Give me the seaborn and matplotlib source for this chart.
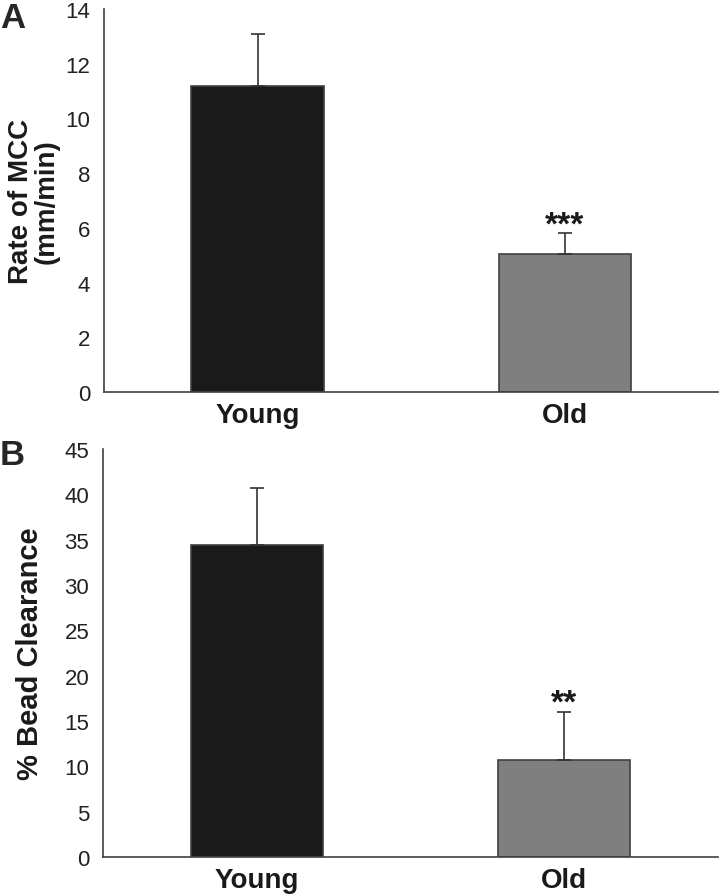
import matplotlib
matplotlib.use("Agg")
import matplotlib.pyplot as plt
import seaborn as sns

groups = ["Young", "Old"]
mcc_rate = [11.2, 5.05]
mcc_err = [1.9, 0.75]
bead_clear = [34.4, 10.7]
bead_err = [6.3, 5.3]
stars = ["***", "**"]
bar_colors = ["#1a1a1a", "#7f7f7f"]

sns.set_style("white")
plt.rcParams["font.family"] = ["Liberation Sans", "DejaVu Sans"]

fig = plt.figure(figsize=(7.2, 8.95), dpi=100)
ax_a = fig.add_axes([0.1444, 0.5609, 0.853, 0.4279])
ax_b = fig.add_axes([0.1431, 0.0413, 0.854, 0.4559])


def draw_panel(ax, vals, errs, star, ylim, step, ylabel, label_x, label_size):
    sns.barplot(x=groups, y=vals, hue=groups, palette=bar_colors, width=0.43,
                edgecolor="#404040", linewidth=1.2, legend=False, ax=ax)
    ax.errorbar(range(len(vals)), vals, yerr=[[0] * len(errs), errs], fmt="none",
                ecolor="#333333", elinewidth=1.2, capsize=5, capthick=1.2)
    ax.text(1, vals[1] + errs[1], star, ha="center", va="baseline",
            fontsize=24, fontweight="bold", color="#1a1a1a")
    ax.set_xlim(-0.5, 1.5)
    ax.set_ylim(0, ylim)
    ax.set_yticks(range(0, ylim + 1, step))
    ax.tick_params(axis="y", direction="out", length=6, width=1.2, color="#404040",
                   labelsize=16, pad=4, labelcolor="#222222")
    ax.tick_params(axis="x", length=0, labelsize=20, pad=7, labelcolor="#1a1a1a")
    for lab in ax.get_xticklabels():
        lab.set_fontweight("bold")
    for side in ["top", "right"]:
        ax.spines[side].set_visible(False)
    for side in ["left", "bottom"]:
        ax.spines[side].set_color("#404040")
        ax.spines[side].set_linewidth(1.2)
    ax.set_xlabel("")
    ax.set_ylabel(ylabel, fontsize=label_size, fontweight="bold", color="#1a1a1a",
                  linespacing=0.95)
    ax.yaxis.set_label_coords(label_x, 0.5)


draw_panel(ax_a, mcc_rate, mcc_err, stars[0], 14, 2, "Rate of MCC\n(mm/min)", -0.073, 20)
draw_panel(ax_b, bead_clear, bead_err, stars[1], 45, 5, "% Bead Clearance", -0.096, 21)

fig.text(0.0, 1 - 18 / 895, "A", fontsize=25, fontweight="bold", ha="left", va="center")
fig.text(0.0, 1 - 456 / 895, "B", fontsize=25, fontweight="bold", ha="left", va="center")

fig.savefig("out.png", dpi=100)
